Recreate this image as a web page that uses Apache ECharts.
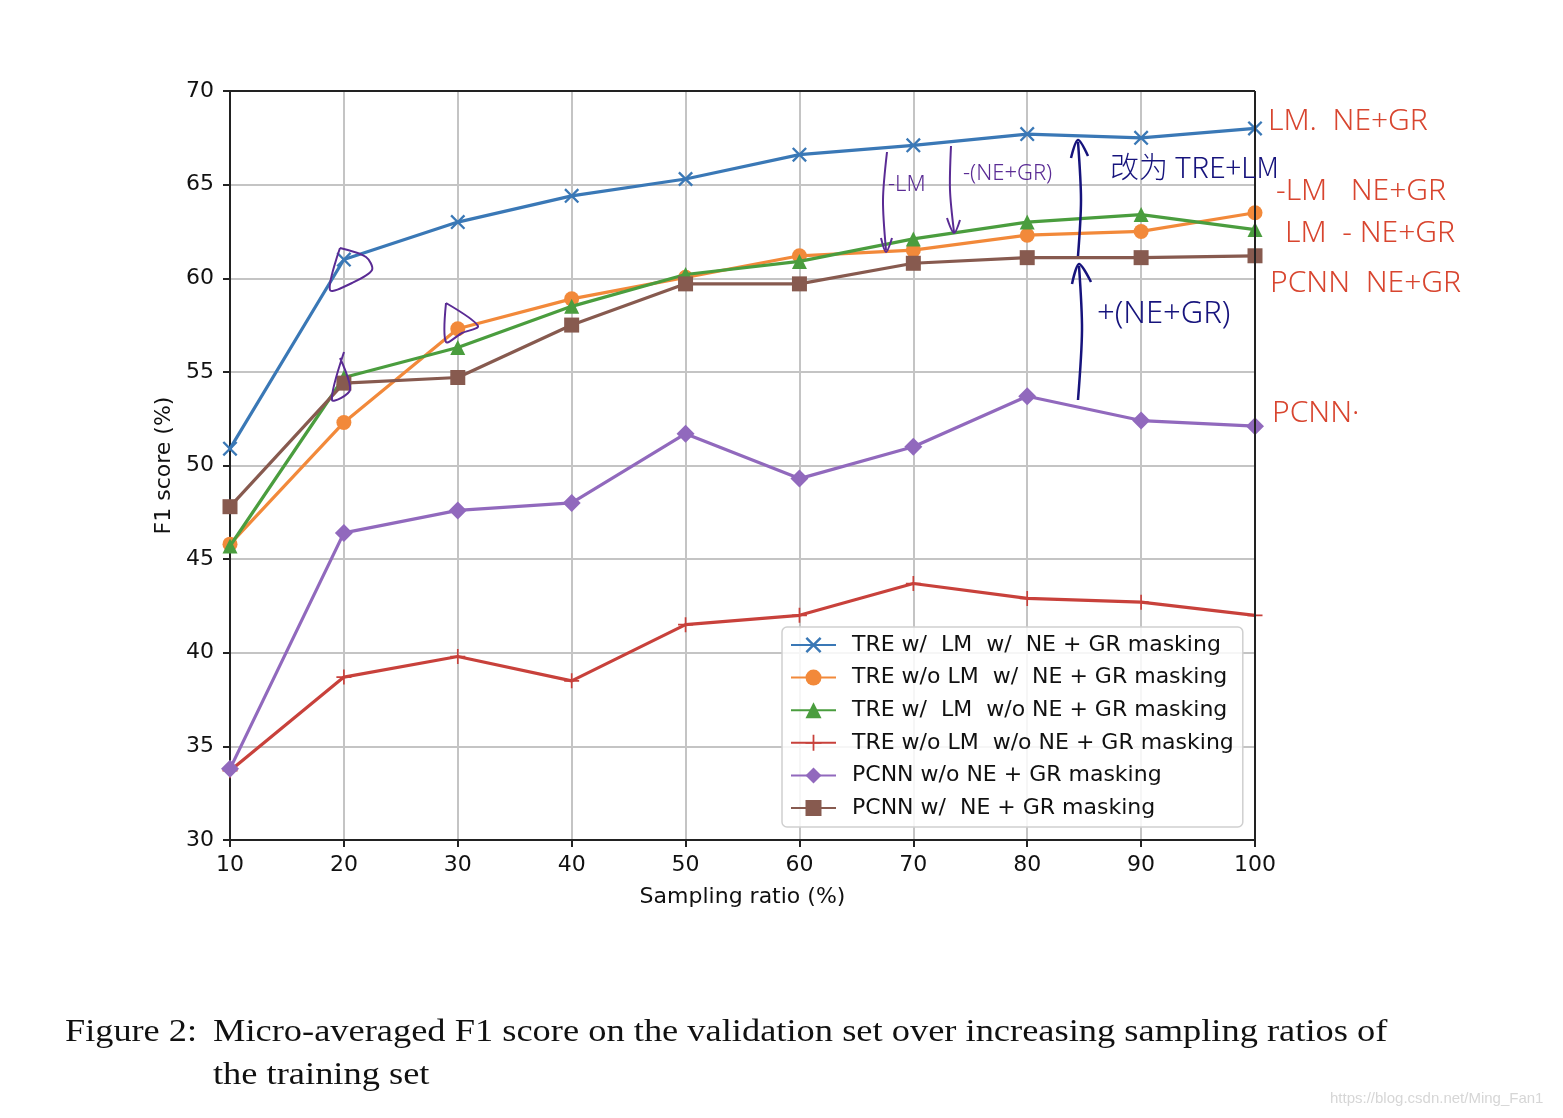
<!DOCTYPE html>
<html>
<head>
<meta charset="utf-8">
<script src="https://cdn.jsdelivr.net/npm/echarts@6/dist/echarts.min.js"></script>
<style>
html,body{margin:0;padding:0;background:#fff;}
#chart{width:1563px;height:1118px;}
</style>
</head>
<body>
<div id="chart"></div>
<script>
// ---- data ----
var ratios = [10, 20, 30, 40, 50, 60, 70, 80, 90, 100];
var seriesNames = [
  'TRE w/  LM  w/  NE + GR masking',
  'TRE w/o LM  w/  NE + GR masking',
  'TRE w/  LM  w/o NE + GR masking',
  'TRE w/o LM  w/o NE + GR masking',
  'PCNN w/o NE + GR masking',
  'PCNN w/  NE + GR masking'
];
var treLmNe     = [50.9, 61.0, 63.0, 64.4, 65.3, 66.6, 67.1, 67.7, 67.5, 68.0];
var treNoLmNe   = [45.8, 52.3, 57.3, 58.9, 60.05, 61.2, 61.5, 62.3, 62.5, 63.5];
var treLmNoNe   = [45.7, 54.7, 56.3, 58.5, 60.2, 60.9, 62.1, 63.0, 63.4, 62.6];
var treNoLmNoNe = [33.7, 38.7, 39.8, 38.5, 41.5, 42.0, 43.7, 42.9, 42.7, 42.0];
var pcnnNoNe    = [33.8, 46.4, 47.6, 48.0, 51.7, 49.3, 51.0, 53.7, 52.4, 52.1];
var pcnnNe      = [47.8, 54.4, 54.7, 57.5, 59.7, 59.7, 60.8, 61.1, 61.1, 61.2];
var yTicks = [30, 35, 40, 45, 50, 55, 60, 65, 70];
var xTicks = [10, 20, 30, 40, 50, 60, 70, 80, 90, 100];

var colors = ['#3a78b6', '#f2893a', '#4a9d3e', '#c8413b', '#9169bd', '#875a4f'];
var symbols = [
  'path://M0,1.1L1.1,0L5,3.9L8.9,0L10,1.1L6.1,5L10,8.9L8.9,10L5,6.1L1.1,10L0,8.9L3.9,5Z',
  'circle',
  'triangle',
  'path://M4.45,0H5.55V4.45H10V5.55H5.55V10H4.45V5.55H0V4.45H4.45Z',
  'diamond',
  'rect'
];
var sizes = [15, 15, 15, 15, 18, 15];
var allData = [treLmNe, treNoLmNe, treLmNoNe, treNoLmNoNe, pcnnNoNe, pcnnNe];

function pairs(arr) { return ratios.map(function (r, i) { return [r, arr[i]]; }); }

var series = allData.map(function (arr, i) {
  return {
    name: seriesNames[i],
    type: 'line',
    data: pairs(arr),
    symbol: symbols[i],
    symbolSize: sizes[i],
    showAllSymbol: true,
    lineStyle: { color: colors[i], width: 3.2 },
    itemStyle: { color: colors[i] },
    emphasis: { disabled: true },
    clip: false,
    z: 3 + i
  };
});

var chart = echarts.init(document.getElementById('chart'), null, { renderer: 'canvas' });

var fontFam = 'DejaVu Sans';
var red = '#d8452f', navy = '#16137c', purp = '#5a2b94';

function txt(t, x, y, size, color, font) {
  return { type: 'text', left: x, top: y, z: 50, silent: true,
    style: { text: t, fill: color, font: '300 ' + size + 'px ' + (font || '"Noto Sans"') } };
}
function poly(points, color, w) {
  return { type: 'polyline', z: 50, silent: true, shape: { points: points, smooth: 0.3 },
    style: { stroke: color, lineWidth: w || 2, fill: null } };
}

var option = {
  animation: false,
  backgroundColor: '#ffffff',
  grid: { left: 230, right: 308, top: 91, bottom: 278, containLabel: false },
  xAxis: {
    type: 'value', min: 10, max: 100, interval: 10,
    name: 'Sampling ratio (%)', nameLocation: 'middle', nameGap: 46,
    nameTextStyle: { fontFamily: fontFam, fontSize: 22, color: '#111' },
    axisLine: { show: true, onZero: false, lineStyle: { color: '#222', width: 2 } },
    axisTick: { show: true, length: 7, lineStyle: { color: '#222', width: 2 } },
    axisLabel: { fontFamily: fontFam, fontSize: 22, color: '#111', margin: 14,
      formatter: function (v) { return xTicks.indexOf(v) >= 0 ? String(v) : ''; } },
    splitLine: { show: true, lineStyle: { color: '#c4c4c4', width: 2 } }
  },
  yAxis: {
    type: 'value', min: 30, max: 70, interval: 5,
    name: 'F1 score (%)', nameLocation: 'middle', nameGap: 52, nameRotate: 90,
    nameTextStyle: { fontFamily: fontFam, fontSize: 22, color: '#111' },
    axisLine: { show: true, onZero: false, lineStyle: { color: '#222', width: 2 } },
    axisTick: { show: true, length: 7, lineStyle: { color: '#222', width: 2 } },
    axisLabel: { fontFamily: fontFam, fontSize: 22, color: '#111', margin: 16,
      formatter: function (v) { return yTicks.indexOf(v) >= 0 ? String(v) : ''; } },
    splitLine: { show: true, lineStyle: { color: '#c4c4c4', width: 2 } }
  },
  legend: {
    orient: 'vertical',
    left: 782, top: 627,
    data: seriesNames,
    itemWidth: 45, itemHeight: 20, itemGap: 10.6,
    padding: [7, 9, 8, 8],
    backgroundColor: 'rgba(255,255,255,0.85)',
    borderColor: '#cfcfcf', borderWidth: 1.5, borderRadius: 5,
    textStyle: { fontFamily: fontFam, fontSize: 22, color: '#111', lineHeight: 22, padding: [0, 0, 0, 11] },
    selectedMode: false,
    z: 20
  },
  series: series,
  graphic: [
    // spines top & right
    { type: 'line', z: 40, silent: true, shape: { x1: 230, y1: 91, x2: 1255, y2: 91 }, style: { stroke: '#222', lineWidth: 2 } },
    { type: 'line', z: 40, silent: true, shape: { x1: 1255, y1: 91, x2: 1255, y2: 840 }, style: { stroke: '#222', lineWidth: 2 } },
    // caption
    { type: 'text', x: 65, y: 1017, silent: true, scaleX: 1.17,
      style: { text: 'Figure 2:', fill: '#111', font: '31px "Liberation Serif"' } },
    { type: 'text', x: 213, y: 1017, silent: true, scaleX: 1.175,
      style: { text: 'Micro-averaged F1 score on the validation set over increasing sampling ratios of',
        fill: '#111', font: '31px "Liberation Serif"' } },
    { type: 'text', x: 213, y: 1060, silent: true, scaleX: 1.175,
      style: { text: 'the training set', fill: '#111', font: '31px "Liberation Serif"' } },
    { type: 'text', left: 1330, top: 1091, silent: true,
      style: { text: 'https://blog.csdn.net/Ming_Fan1', fill: '#d6d6d6', font: '15px "Liberation Sans"' } },
    // handwritten annotations (red)
    txt('LM.  NE+GR', 1268, 106, 30, red),
    txt('-LM   NE+GR', 1276, 176, 30, red),
    txt('LM  - NE+GR', 1285, 218, 30, red),
    txt('PCNN  NE+GR', 1270, 268, 30, red),
    txt('PCNN·', 1272, 398, 30, red),
    // navy
    txt('改为 TRE+LM', 1110, 152, 29, navy, '"Noto Sans CJK SC"'),
    txt('+(NE+GR)', 1097, 299, 31, navy),
    // purple
    txt('-LM', 888, 174, 22, purp),
    txt('-(NE+GR)', 963, 163, 22, purp),
    poly([[887, 152], [883, 200], [886, 250]], purp, 2),
    poly([[881, 238], [886, 252], [892, 238]], purp, 2),
    poly([[951, 146], [950, 190], [954, 232]], purp, 2),
    poly([[947, 218], [954, 233], [960, 220]], purp, 2),
    poly([[1078, 256], [1081, 200], [1078, 142]], navy, 2.5),
    poly([[1071, 158], [1078, 140], [1088, 156]], navy, 2.5),
    poly([[1078, 400], [1082, 330], [1079, 266]], navy, 2.5),
    poly([[1072, 284], [1079, 264], [1091, 282]], navy, 2.5),
    // loops
    poly([[340, 248], [330, 290], [352, 283], [372, 270], [366, 257], [340, 248]], purp, 2),
    poly([[446, 303], [446, 342], [462, 333], [478, 326], [446, 303]], purp, 2),
    poly([[344, 352], [332, 400], [350, 390], [340, 358]], purp, 2)
  ]
};
chart.setOption(option);
</script>
</body>
</html>
